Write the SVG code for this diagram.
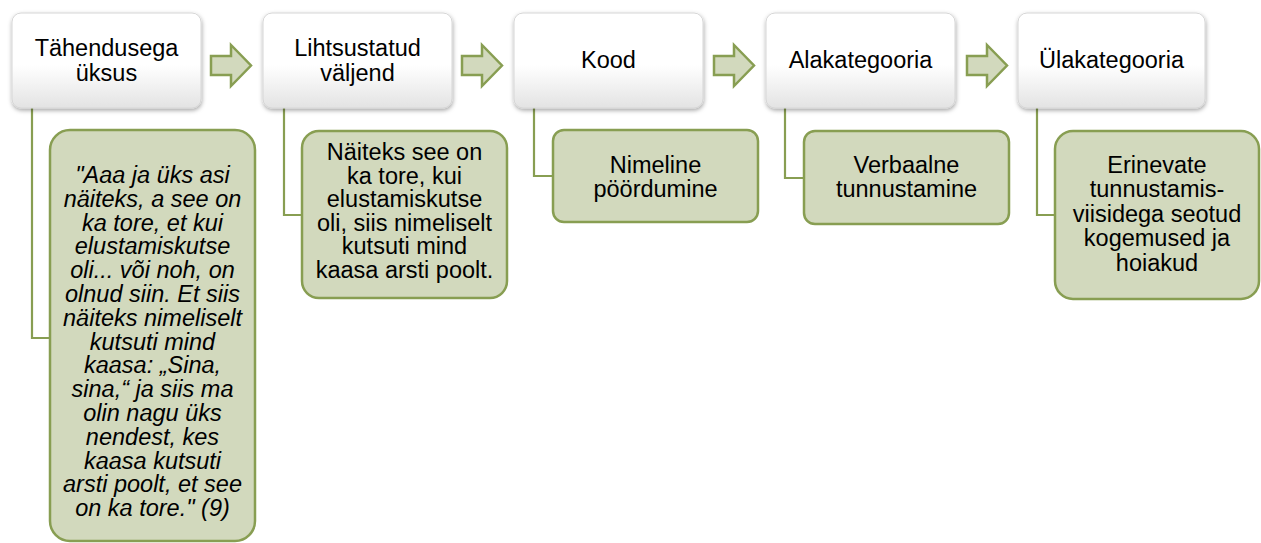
<svg xmlns="http://www.w3.org/2000/svg" width="1261" height="543" viewBox="0 0 1261 543">
<defs>
<linearGradient id="topg" x1="0" y1="0" x2="0" y2="1">
<stop offset="0" stop-color="#ffffff"/>
<stop offset="0.55" stop-color="#ffffff"/>
<stop offset="1" stop-color="#e3e3e3"/>
</linearGradient>
<filter id="sh" x="-10%" y="-10%" width="125%" height="130%">
<feDropShadow dx="0.5" dy="2" stdDeviation="2" flood-color="#000" flood-opacity="0.35"/>
</filter>
<path id="arrow" d="M0,56 H20 V45 L40,65.5 L20,86 V75 H0 Z"/>
</defs>
<style>
.top{fill:url(#topg);stroke:#d6d6d6;stroke-width:1;filter:url(#sh)}
.child{fill:#d2d9bd;stroke:#889e52;stroke-width:2.5}
.arr{fill:#d2d9bd;stroke:#889e52;stroke-width:2.5;stroke-linejoin:miter}
.con{fill:none;stroke:#889e52;stroke-width:2.2}
text{font-family:"Liberation Sans",Arial,sans-serif;font-size:23.5px;fill:#000;text-anchor:middle}
.it{font-style:italic}
</style>
<g id="connectors">
<path class="con" d="M32,108 V338 H50"/>
<path class="con" d="M284,108 V215 H302"/>
<path class="con" d="M534,108 V176 H553"/>
<path class="con" d="M785,108 V178 H804"/>
<path class="con" d="M1037,108 V215 H1055"/>
<use href="#arrow" class="arr" x="211"/>
<use href="#arrow" class="arr" x="462"/>
<use href="#arrow" class="arr" x="714"/>
<use href="#arrow" class="arr" x="967"/>
</g>
<g id="n1">
<rect class="top" x="12" y="13" width="189" height="95" rx="9"/>
<text x="106.5" y="56">Tähendusega</text>
<text x="106.5" y="81">üksus</text>
</g>
<g id="n2">
<rect class="top" x="263" y="13" width="189" height="95" rx="9"/>
<text x="357.5" y="56">Lihtsustatud</text>
<text x="357.5" y="81">väljend</text>
</g>
<g id="n3">
<rect class="top" x="514" y="13" width="189" height="95" rx="9"/>
<text x="608.5" y="68">Kood</text>
</g>
<g id="n4">
<rect class="top" x="766" y="13" width="189" height="95" rx="9"/>
<text x="860.5" y="68">Alakategooria</text>
</g>
<g id="n5">
<rect class="top" x="1018" y="13" width="187" height="95" rx="9"/>
<text x="1111.5" y="68">Ülakategooria</text>
</g>
<g id="c1">
<rect class="child" x="50" y="130" width="205" height="411" rx="20"/>
<text class="it" x="152.5" y="183">"Aaa ja üks asi</text>
<text class="it" x="152.5" y="206.8">näiteks, a see on</text>
<text class="it" x="152.5" y="230.6">ka tore, et kui</text>
<text class="it" x="152.5" y="254.4">elustamiskutse</text>
<text class="it" x="152.5" y="278.2">oli... või noh, on</text>
<text class="it" x="152.5" y="302">olnud siin. Et siis</text>
<text class="it" x="152.5" y="325.8">näiteks nimeliselt</text>
<text class="it" x="152.5" y="349.6">kutsuti mind</text>
<text class="it" x="152.5" y="373.4">kaasa: „Sina,</text>
<text class="it" x="152.5" y="397.2">sina,“ ja siis ma</text>
<text class="it" x="152.5" y="421">olin nagu üks</text>
<text class="it" x="152.5" y="444.8">nendest, kes</text>
<text class="it" x="152.5" y="468.6">kaasa kutsuti</text>
<text class="it" x="152.5" y="492.4">arsti poolt, et see</text>
<text class="it" x="152.5" y="516.2">on ka tore." (9)</text>
</g>
<g id="c2">
<rect class="child" x="302" y="131" width="205" height="167" rx="17"/>
<text x="404.5" y="160">Näiteks see on</text>
<text x="404.5" y="183.5">ka tore, kui</text>
<text x="404.5" y="207">elustamiskutse</text>
<text x="404.5" y="230.5">oli, siis nimeliselt</text>
<text x="404.5" y="254">kutsuti mind</text>
<text x="404.5" y="277.5">kaasa arsti poolt.</text>
</g>
<g id="c3">
<rect class="child" x="553" y="130" width="205" height="92" rx="11"/>
<text x="655.5" y="173">Nimeline</text>
<text x="655.5" y="197">pöördumine</text>
</g>
<g id="c4">
<rect class="child" x="804" y="131" width="205" height="93" rx="11"/>
<text x="906.5" y="173">Verbaalne</text>
<text x="906.5" y="197">tunnustamine</text>
</g>
<g id="c5">
<rect class="child" x="1055" y="131" width="204" height="168" rx="18"/>
<text x="1157" y="173">Erinevate</text>
<text x="1157" y="197">tunnustamis-</text>
<text x="1157" y="222">viisidega seotud</text>
<text x="1157" y="246">kogemused ja</text>
<text x="1157" y="271">hoiakud</text>
</g>
</svg>
